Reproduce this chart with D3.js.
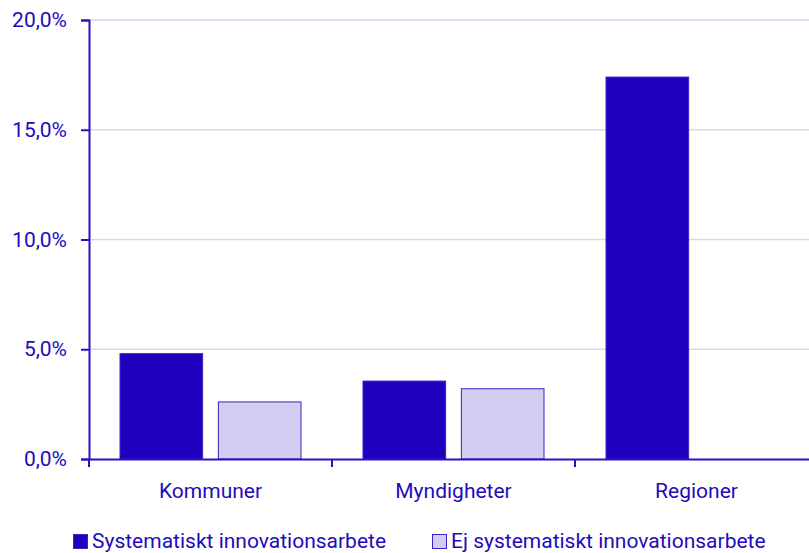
<!DOCTYPE html>
<html>
<head>
<meta charset="utf-8">
<script src="https://cdn.jsdelivr.net/npm/d3@7"></script>
<style>
  body { margin: 0; background: #fff; }
  svg text { font-family: Roboto, "Noto Sans", sans-serif; fill: #1e0cbc; }
</style>
</head>
<body>
<div class="chart"></div>
<script>
const categories = ["Kommuner", "Myndigheter", "Regioner"];
const seriesNames = ["Systematiskt innovationsarbete", "Ej systematiskt innovationsarbete"];
const systematiskt = [4.8, 3.55, 17.4];
const ejSystematiskt = [2.6, 3.2, 0];
const yTicks = [0, 5, 10, 15, 20];

const fills = ["#1f00bf", "#d2cdf1"];
const strokes = ["#3a22c8", "#3a22c8"];

var width = 809, height = 553;
var margin = {top: 20, right: -9, bottom: 94, left: 89};
var innerW = width - margin.left - margin.right,
    innerH = height - margin.top - margin.bottom;

const svg = d3.select(".chart").append("svg")
    .attr("width", width)
    .attr("height", height);

const g = svg.append("g")
    .attr("transform", "translate(" + margin.left + "," + margin.top + ")");

const xScale = d3.scaleBand()
    .domain(categories)
    .range([0, innerW]);

const yScale = d3.scaleLinear()
    .domain([0, 20])
    .range([innerH, 0]);

const step = xScale.bandwidth();
const xSub = d3.scaleBand()
    .domain(seriesNames)
    .range([31, step - 31])
    .paddingInner(0.16);

// gridlines
g.append("g")
    .selectAll("line")
    .data(yTicks.filter(d => d > 0))
    .join("line")
    .attr("x1", 0)
    .attr("x2", width)
    .attr("y1", d => yScale(d))
    .attr("y2", d => yScale(d))
    .attr("stroke", "#d9d6f5")
    .attr("stroke-width", 1.5);

const rows = categories.map((c, i) => ({cat: c, vals: [systematiskt[i], ejSystematiskt[i]]}));

g.append("g")
    .selectAll("g")
    .data(rows)
    .join("g")
    .attr("transform", d => `translate(${xScale(d.cat)},0)`)
    .selectAll("rect")
    .data(d => d.vals.map((v, j) => ({name: seriesNames[j], v: v, j: j})).filter(d => d.v > 0))
    .join("rect")
    .attr("x", d => xSub(d.name))
    .attr("width", xSub.bandwidth())
    .attr("y", d => yScale(d.v))
    .attr("height", d => innerH - yScale(d.v))
    .attr("fill", d => fills[d.j])
    .attr("stroke", d => strokes[d.j])
    .attr("stroke-width", 1);

const yAxis = d3.axisLeft(yScale)
    .tickValues(yTicks)
    .tickSize(8)
    .tickPadding(14)
    .tickFormat(d => d3.format(".1f")(d).replace(".", ",") + "%");

const yG = g.append("g")
    .attr("class", "axis y-axis")
    .call(yAxis);

const xAxis = d3.axisBottom(xScale)
    .tickSize(0)
    .tickPadding(24);

const xG = g.append("g")
    .attr("class", "axis x-axis")
    .attr("transform", `translate(0, ${innerH})`)
    .call(xAxis);

// category boundary ticks
xG.append("g")
    .selectAll("line")
    .data(categories.map(c => xScale(c)).concat([innerW]))
    .join("line")
    .attr("x1", d => d)
    .attr("x2", d => d)
    .attr("y1", 0)
    .attr("y2", 8)
    .attr("stroke", "#2a12c4")
    .attr("stroke-width", 2);

svg.selectAll(".axis path.domain")
    .attr("stroke", "#2a12c4")
    .attr("stroke-width", 2);
yG.selectAll(".tick line").attr("stroke", "#2a12c4").attr("stroke-width", 2);
svg.selectAll(".axis text")
    .attr("font-size", 21)
    .attr("fill", "#1e0cbc");

// legend
const legend = svg.append("g").attr("transform", "translate(73, 541)");
const legX = [0, 359];
const items = legend.selectAll("g")
    .data(seriesNames)
    .join("g")
    .attr("transform", (d, i) => `translate(${legX[i]},0)`);
items.append("rect")
    .attr("x", 0.5)
    .attr("y", -6.5)
    .attr("width", 14)
    .attr("height", 14)
    .attr("fill", (d, i) => fills[i])
    .attr("stroke", (d, i) => strokes[i]);
items.append("text")
    .attr("x", 19)
    .attr("y", 0)
    .attr("dy", "0.35em")
    .attr("font-size", 21)
    .text(d => d);
</script>
</body>
</html>
